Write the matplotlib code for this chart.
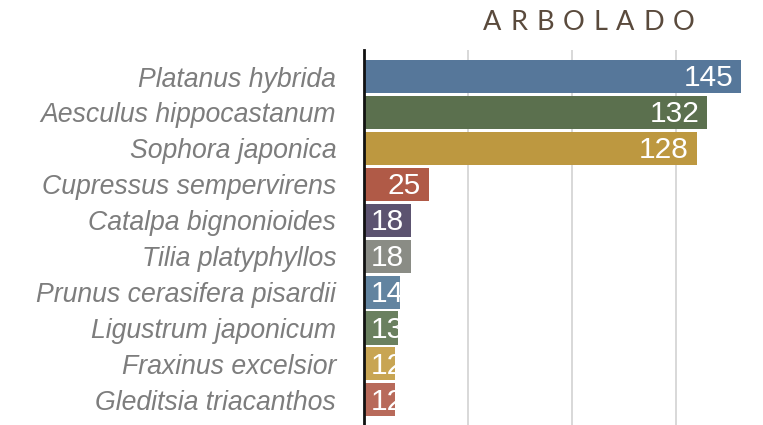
import matplotlib
matplotlib.use('Agg')
import matplotlib.pyplot as plt

# data
species = ['Platanus hybrida', 'Aesculus hippocastanum', 'Sophora japonica',
           'Cupressus sempervirens', 'Catalpa bignonioides', 'Tilia platyphyllos',
           'Prunus cerasifera pisardii', 'Ligustrum japonicum', 'Fraxinus excelsior',
           'Gleditsia triacanthos']
counts = [145, 132, 128, 25, 18, 18, 14, 13, 12, 12]
colors = ['#56779a', '#5b704e', '#bd9840', '#b05a47', '#5c5370', '#8a8c85',
          '#6284a0', '#6a805f', '#c8a553', '#b86a5a']
title = 'ARBOLADO'

fig = plt.figure(figsize=(7.63, 4.25), dpi=100)
ax = fig.add_axes([364 / 763, 0, 380 / 763, 375 / 425])

ypos = list(range(len(species)))
bars = ax.barh(ypos, counts, height=0.92, color=colors, zorder=2)

ax.set_xlim(0, 380 / 2.6)
ax.set_ylim(9.7, -0.74)
ax.set_xticks([40, 80, 120])
ax.xaxis.grid(True, color='#d2d2d2', linewidth=1.2, zorder=0)
ax.tick_params(axis='x', length=0, labelbottom=False)
ax.tick_params(axis='y', length=0, pad=20)
ax.set_yticks(ypos)
ax.set_yticklabels(species, fontsize=19.2, style='italic', color='#7d7d7d',
                   family='Liberation Sans')
for s in ['top', 'right', 'bottom']:
    ax.spines[s].set_visible(False)
ax.spines['left'].set_color('#111111')
ax.spines['left'].set_linewidth(2)

# value labels inside bars, clipped by the bar itself
fig.canvas.draw()
r = fig.canvas.get_renderer()
px = ax.transData.transform((1, 0))[0] - ax.transData.transform((0, 0))[0]
for b, v, y in zip(bars, counts, ypos):
    t = ax.text(v - 8 / px, y + 0.05, str(v), ha='right', va='center',
                color='white', fontsize=21.5, family='Liberation Sans', zorder=3)
    w = t.get_window_extent(r).width / px
    if v - 8 / px - w < 8 / px:
        t.set_ha('left')
        t.set_x(7 / px)
    t.set_clip_path(b)

# letter-spaced title
W = 763
letters = [fig.text(0, 1 - 22 / 425, c, ha='left', va='center', fontsize=19.5,
                    color='#5a4a3c', family='Lato') for c in title]
widths = [t.get_window_extent(r).width for t in letters]
track = (212 - sum(widths)) / (len(title) - 1)
x = 483
for t, w in zip(letters, widths):
    t.set_x(x / W)
    x += w + track

fig.savefig('out.png', dpi=100)
